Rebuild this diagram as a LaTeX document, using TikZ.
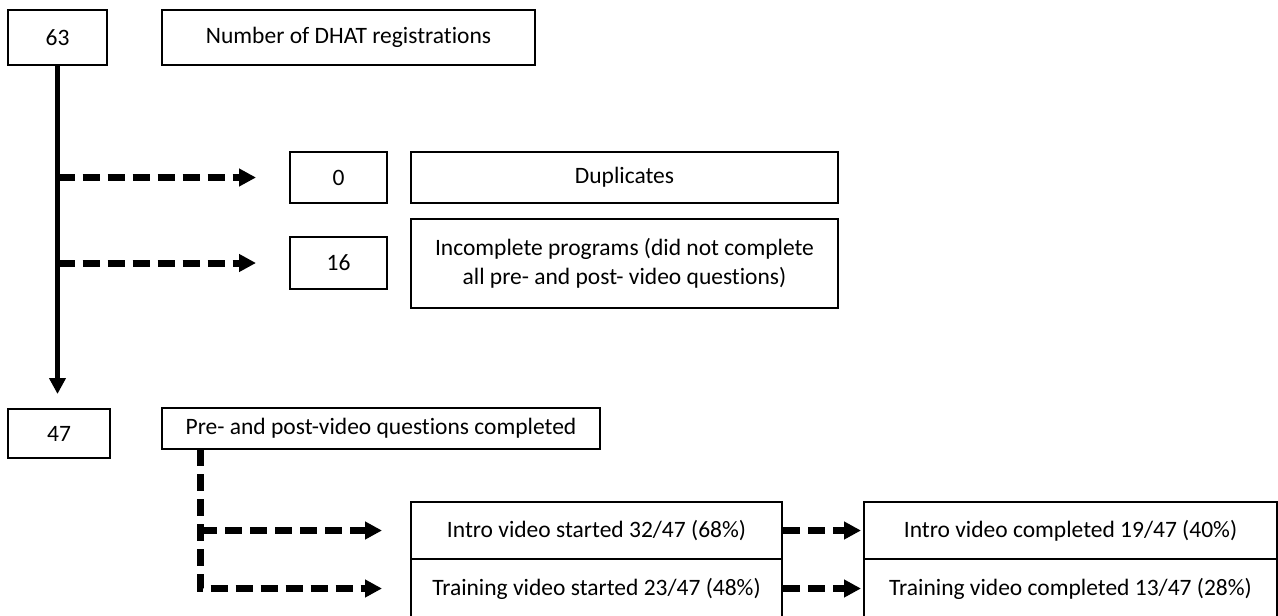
\documentclass[tikz,border=0pt]{standalone}
\usepackage{fontspec}
\setmainfont{Carlito}[Ligatures=NoCommon]
\usetikzlibrary{arrows.meta}
\tikzset{
  box/.style={draw=black, line width=2pt, inner sep=0pt, align=center,
    font=\fontsize{23.5}{28.5}\selectfont},
  solidarrow/.style={line width=5pt, -{Triangle[length=16pt,width=16pt]}},
  dasharrow/.style={line width=7pt, dash pattern=on 17pt off 8pt,
    -{Triangle[length=17pt,width=17pt]}},
}
\begin{document}
\begin{tikzpicture}[x=1pt,y=-1pt]
\useasboundingbox (0,0) rectangle (1278,616);
\clip (0,0) rectangle (1278,616);
\node[box, minimum width=99pt, minimum height=55pt] (n63) at (57.5,37.5) {63};
\node[box, minimum width=373pt, minimum height=55pt] (nreg) at (348.5,37.5) {Number of DHAT registrations};
\node[box, minimum width=97pt, minimum height=51pt] (n0) at (338.5,177.5) {0};
\node[box, minimum width=427pt, minimum height=51pt] (ndup) at (624.5,177.5) {Duplicates};
\node[box, minimum width=97pt, minimum height=52pt] (n16) at (338.5,263) {16};
\node[box, minimum width=427pt, minimum height=89pt] (ninc) at (624.5,263.5) {Incomplete programs (did not complete\\all pre- and post- video questions)};
\node[box, minimum width=102pt, minimum height=49pt] (n47) at (59,433.5) {47};
\node[box, minimum width=438pt, minimum height=41pt] (npre) at (381,428.5) {Pre- and post-video questions completed};
\node[box, minimum width=371pt, minimum height=57pt] (nis) at (596.5,530.5) {Intro video started 32/47 (68\%)};
\node[box, minimum width=371pt, minimum height=59pt] (nts) at (596.5,588.5) {Training video started 23/47 (48\%)};
\node[box, minimum width=413pt, minimum height=57pt] (nic) at (1070.5,530.5) {Intro video completed 19/47 (40\%)};
\node[box, minimum width=413pt, minimum height=59pt] (ntc) at (1070.5,588.5) {Training video completed 13/47 (28\%)};
% main flow
\draw[solidarrow, shorten >=14pt] (n63.south) -- (n63.south |- n47.north);
\coordinate (b0) at (n63.south |- n0.west);
\coordinate (b16) at (n63.south |- n16.west);
\draw[dasharrow, shorten >=33pt] (b0) -- (n0.west);
\draw[dasharrow, shorten >=33pt] (b16) -- (n16.west);
% video branches
\coordinate (pv) at (200,449);
\draw[dasharrow, shorten >=28pt] (pv) |- (nts.west);
\draw[dasharrow, shorten >=28pt] (pv |- nis.west) -- (nis.west);
\draw[dasharrow, shorten >=2pt] (nis.east) -- (nic.west);
\draw[dasharrow, shorten >=2pt] (nts.east) -- (ntc.west);
\end{tikzpicture}
\end{document}
